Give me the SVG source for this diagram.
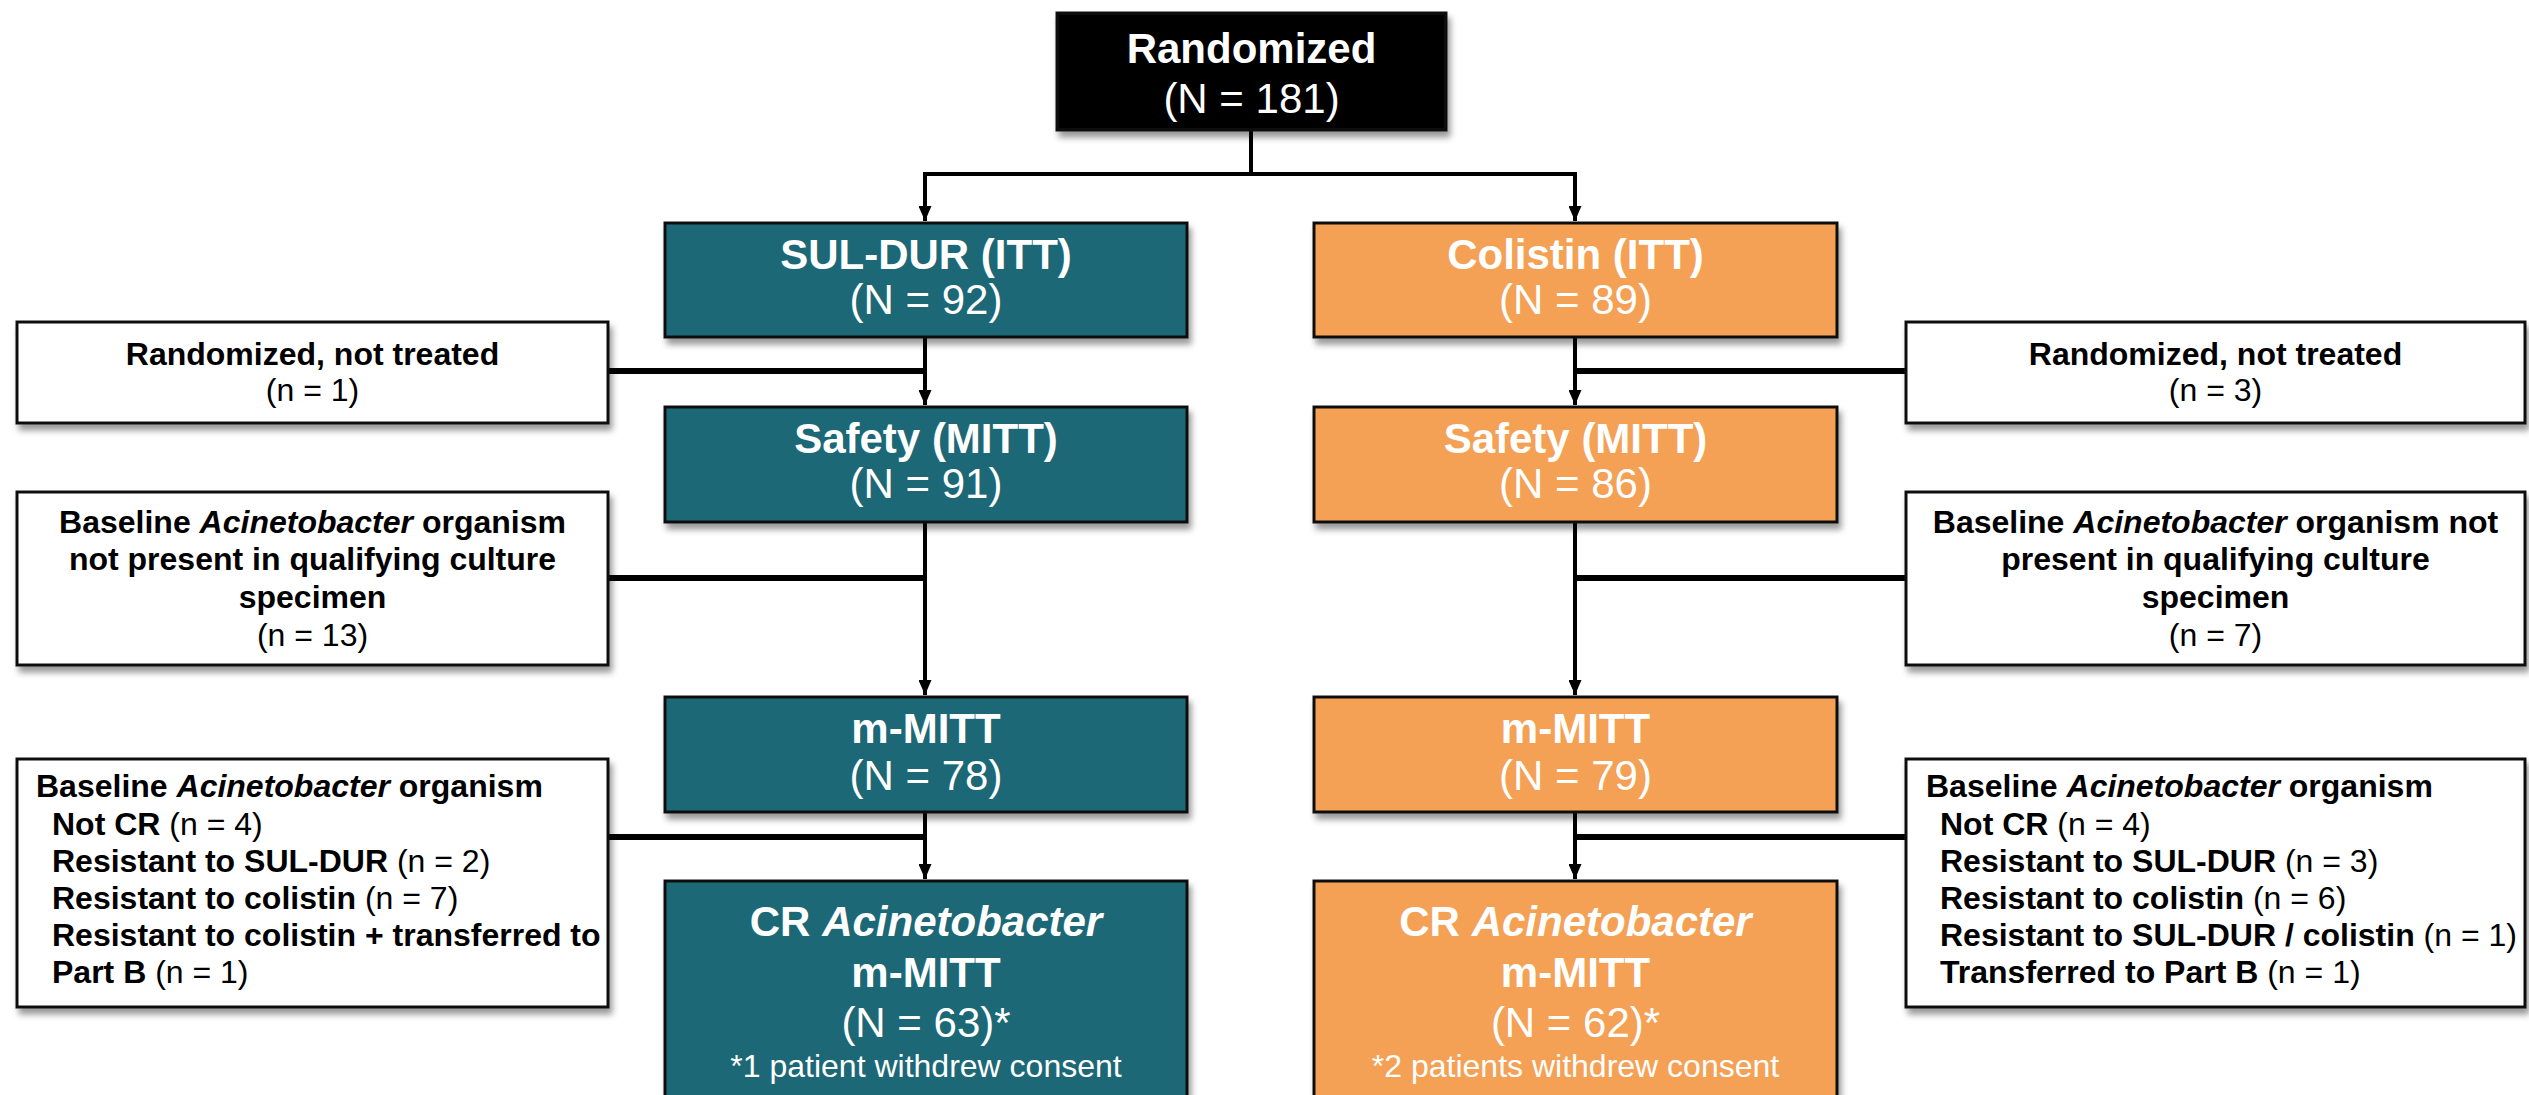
<svg xmlns="http://www.w3.org/2000/svg" width="2529" height="1095" viewBox="0 0 2529 1095">
<style>
text{font-family:"Liberation Sans",Arial,Helvetica,sans-serif}
.big{font-size:42px;fill:#fff;text-anchor:middle}
.note{font-size:32px;fill:#fff;text-anchor:middle}
.side{font-size:32px;fill:#000}
.c{text-anchor:middle}
.b{font-weight:bold}
.it{font-style:italic}
.teal{fill:#1a6876;stroke:#111;stroke-width:3}
.orng{fill:#f4a156;stroke:#111;stroke-width:3}
.blk{fill:#000;stroke:#111;stroke-width:3}
.wht{fill:#fff;stroke:#111;stroke-width:3}
.ln{fill:none;stroke:#000;stroke-width:4}
.sl{fill:none;stroke:#000;stroke-width:6}
</style>
<defs>
<filter id="sh" x="-5%" y="-5%" width="115%" height="130%">
<feDropShadow dx="3" dy="6" stdDeviation="3" flood-color="#000" flood-opacity="0.4"/>
</filter>
<marker id="ar" viewBox="0 0 15 13" refX="15" refY="6.5" markerWidth="15" markerHeight="13" markerUnits="userSpaceOnUse" orient="auto">
<path d="M0,0 L15,6.5 L0,13 Z" fill="#000"/>
</marker>
</defs>

<g id="connectors">
<path class="ln" d="M1251,130 V174 H925 V221" marker-end="url(#ar)"/>
<path class="ln" d="M1251,174 H1575 V221" marker-end="url(#ar)"/>
<path class="ln" d="M925,337 V405" marker-end="url(#ar)"/>
<path class="ln" d="M925,522 V695" marker-end="url(#ar)"/>
<path class="ln" d="M925,812 V879" marker-end="url(#ar)"/>
<path class="ln" d="M1575,337 V405" marker-end="url(#ar)"/>
<path class="ln" d="M1575,522 V695" marker-end="url(#ar)"/>
<path class="ln" d="M1575,812 V879" marker-end="url(#ar)"/>
<path class="sl" d="M608,371 H925"/>
<path class="sl" d="M608,578 H925"/>
<path class="sl" d="M608,837 H925"/>
<path class="sl" d="M1575,371 H1906"/>
<path class="sl" d="M1575,578 H1906"/>
<path class="sl" d="M1575,837 H1906"/>
</g>

<g id="randomized">
<rect class="blk" x="1057" y="13" width="389" height="117" filter="url(#sh)"/>
<text class="big b" x="1251.5" y="63">Randomized</text>
<text class="big" x="1251.5" y="113">(N = 181)</text>
</g>

<g id="suldur-itt">
<rect class="teal" x="665" y="223" width="522" height="114" filter="url(#sh)"/>
<text class="big b" x="926" y="269">SUL-DUR (ITT)</text>
<text class="big" x="926" y="314">(N = 92)</text>
</g>
<g id="colistin-itt">
<rect class="orng" x="1314" y="223" width="523" height="114" filter="url(#sh)"/>
<text class="big b" x="1575.5" y="269">Colistin (ITT)</text>
<text class="big" x="1575.5" y="314">(N = 89)</text>
</g>

<g id="suldur-safety">
<rect class="teal" x="665" y="407" width="522" height="115" filter="url(#sh)"/>
<text class="big b" x="926" y="453">Safety (MITT)</text>
<text class="big" x="926" y="498">(N = 91)</text>
</g>
<g id="colistin-safety">
<rect class="orng" x="1314" y="407" width="523" height="115" filter="url(#sh)"/>
<text class="big b" x="1575.5" y="453">Safety (MITT)</text>
<text class="big" x="1575.5" y="498">(N = 86)</text>
</g>

<g id="suldur-mmitt">
<rect class="teal" x="665" y="697" width="522" height="115" filter="url(#sh)"/>
<text class="big b" x="926" y="743">m-MITT</text>
<text class="big" x="926" y="790">(N = 78)</text>
</g>
<g id="colistin-mmitt">
<rect class="orng" x="1314" y="697" width="523" height="115" filter="url(#sh)"/>
<text class="big b" x="1575.5" y="743">m-MITT</text>
<text class="big" x="1575.5" y="790">(N = 79)</text>
</g>

<g id="suldur-cr">
<rect class="teal" x="665" y="881" width="522" height="240" filter="url(#sh)"/>
<text class="big b" x="926" y="936">CR <tspan class="it">Acinetobacter</tspan></text>
<text class="big b" x="926" y="987">m-MITT</text>
<text class="big" x="926" y="1037">(N = 63)*</text>
<text class="note" x="926" y="1077">*1 patient withdrew consent</text>
</g>
<g id="colistin-cr">
<rect class="orng" x="1314" y="881" width="523" height="240" filter="url(#sh)"/>
<text class="big b" x="1575.5" y="936">CR <tspan class="it">Acinetobacter</tspan></text>
<text class="big b" x="1575.5" y="987">m-MITT</text>
<text class="big" x="1575.5" y="1037">(N = 62)*</text>
<text class="note" x="1575.5" y="1077">*2 patients withdrew consent</text>
</g>

<g id="left-not-treated">
<rect class="wht" x="17" y="322" width="591" height="101" filter="url(#sh)"/>
<text class="side c b" x="312.5" y="365">Randomized, not treated</text>
<text class="side c" x="312.5" y="401">(n = 1)</text>
</g>
<g id="right-not-treated">
<rect class="wht" x="1906" y="322" width="619" height="101" filter="url(#sh)"/>
<text class="side c b" x="2215.5" y="365">Randomized, not treated</text>
<text class="side c" x="2215.5" y="401">(n = 3)</text>
</g>

<g id="left-not-present">
<rect class="wht" x="17" y="492" width="591" height="173" filter="url(#sh)"/>
<text class="side c b" x="312.5" y="533">Baseline <tspan class="it">Acinetobacter</tspan> organism</text>
<text class="side c b" x="312.5" y="570">not present in qualifying culture</text>
<text class="side c b" x="312.5" y="608">specimen</text>
<text class="side c" x="312.5" y="646">(n = 13)</text>
</g>
<g id="right-not-present">
<rect class="wht" x="1906" y="492" width="619" height="173" filter="url(#sh)"/>
<text class="side c b" x="2215.5" y="533">Baseline <tspan class="it">Acinetobacter</tspan> organism not</text>
<text class="side c b" x="2215.5" y="570">present in qualifying culture</text>
<text class="side c b" x="2215.5" y="608">specimen</text>
<text class="side c" x="2215.5" y="646">(n = 7)</text>
</g>

<g id="left-excluded">
<rect class="wht" x="17" y="759" width="591" height="248" filter="url(#sh)"/>
<text class="side b" x="36" y="797">Baseline <tspan class="it">Acinetobacter</tspan> organism</text>
<text class="side" x="52" y="835"><tspan class="b">Not CR </tspan>(n = 4)</text>
<text class="side" x="52" y="872"><tspan class="b">Resistant to SUL-DUR </tspan>(n = 2)</text>
<text class="side" x="52" y="909"><tspan class="b">Resistant to colistin </tspan>(n = 7)</text>
<text class="side b" x="52" y="946">Resistant to colistin + transferred to</text>
<text class="side" x="52" y="983"><tspan class="b">Part B </tspan>(n = 1)</text>
</g>
<g id="right-excluded">
<rect class="wht" x="1906" y="759" width="619" height="248" filter="url(#sh)"/>
<text class="side b" x="1926" y="797">Baseline <tspan class="it">Acinetobacter</tspan> organism</text>
<text class="side" x="1940" y="835"><tspan class="b">Not CR </tspan>(n = 4)</text>
<text class="side" x="1940" y="872"><tspan class="b">Resistant to SUL-DUR </tspan>(n = 3)</text>
<text class="side" x="1940" y="909"><tspan class="b">Resistant to colistin </tspan>(n = 6)</text>
<text class="side" x="1940" y="946"><tspan class="b">Resistant to SUL-DUR / colistin </tspan>(n = 1)</text>
<text class="side" x="1940" y="983"><tspan class="b">Transferred to Part B </tspan>(n = 1)</text>
</g>
</svg>
